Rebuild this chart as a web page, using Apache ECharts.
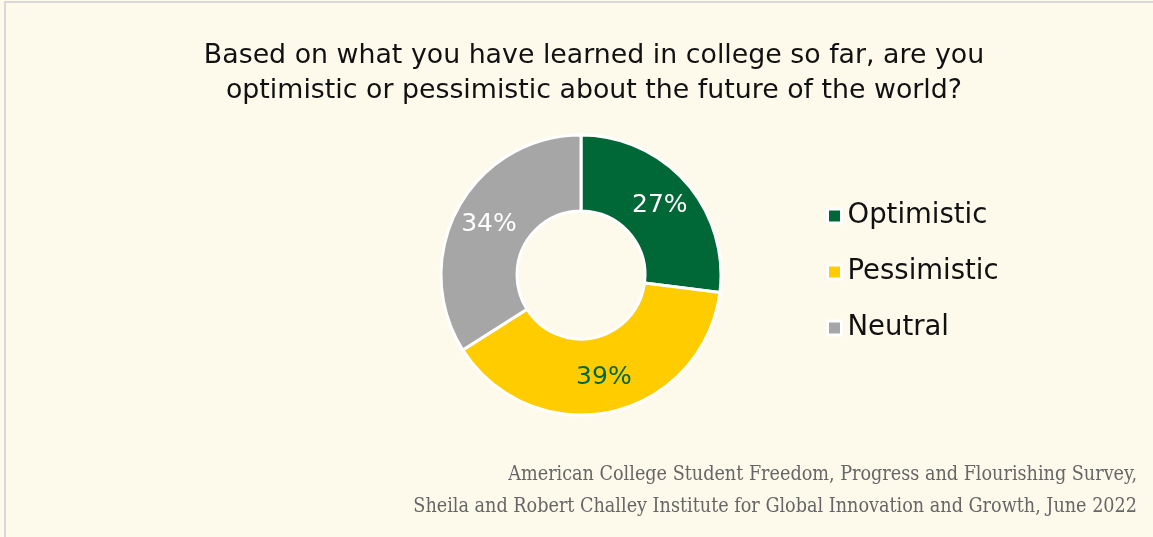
<!DOCTYPE html>
<html>
<head>
<meta charset="utf-8">
<script src="https://cdn.jsdelivr.net/npm/echarts@6/dist/echarts.min.js"></script>
<style>
  html, body { margin: 0; padding: 0; background: #FDF9EB; }
  #chart { width: 1153px; height: 537px; }
</style>
</head>
<body>
<div id="chart"></div>
<script>
// Survey answer shares (percent)
const categories = ['Optimistic', 'Pessimistic', 'Neutral'];
const shares = [27, 39, 34];
const sliceColors = ['#006837', '#FFCC00', '#A6A6A6'];
const labelColors = ['#FFFFFF', '#006837', '#FFFFFF'];

const titleText = 'Based on what you have learned in college so far, are you\noptimistic or pessimistic about the future of the world?';
const sourceText = 'American College Student Freedom, Progress and Flourishing Survey,\nSheila and Robert Challey Institute for Global Innovation and Growth, June 2022';

const sansFont = '"DejaVu Sans", "Noto Sans", sans-serif';

const chart = echarts.init(document.getElementById('chart'));
chart.setOption({
  backgroundColor: '#FDF9EB',
  animation: false,
  graphic: [{
    type: 'rect',
    shape: { x: 5, y: 2, width: 1200, height: 600 },
    style: { fill: 'none', stroke: '#D9D9D9', lineWidth: 2 }
  }, {
    // source note, right-aligned in the lower right corner
    type: 'text',
    x: 1137,
    y: 459,
    style: {
      text: sourceText,
      align: 'right',
      verticalAlign: 'top',
      font: 'normal 19.6px "DejaVu Serif Condensed", "Liberation Serif", serif',
      fill: '#666666',
      lineHeight: 32
    }
  }],
  title: [{
    text: titleText,
    left: 589,
    top: 34,
    textAlign: 'center',
    textStyle: {
      fontFamily: sansFont,
      fontSize: 26.8,
      fontWeight: 'normal',
      color: '#111111',
      lineHeight: 35
    }
  }],
  legend: {
    orient: 'vertical',
    left: 821,
    top: 197,
    itemGap: 28,
    itemWidth: 14,
    itemHeight: 14,
    icon: 'rect',
    itemStyle: { borderColor: '#FFFFFF', borderWidth: 3 },
    textStyle: { fontFamily: sansFont, fontSize: 27.5, color: '#111111', padding: [0, 0, 0, 1] },
    data: categories
  },
  series: [{
    type: 'pie',
    center: [581, 275],
    radius: [64, 140],
    startAngle: 90,
    clockwise: true,
    avoidLabelOverlap: false,
    itemStyle: { borderColor: '#FFFFFF', borderWidth: 3 },
    label: {
      show: true,
      position: 'inside',
      fontFamily: sansFont,
      fontSize: 25,
      formatter: '{c}%'
    },
    labelLine: { show: false },
    emphasis: { disabled: true },
    data: categories.map((name, i) => ({
      name: name,
      value: shares[i],
      itemStyle: { color: sliceColors[i] },
      label: { color: labelColors[i] }
    }))
  }]
});
</script>
</body>
</html>
